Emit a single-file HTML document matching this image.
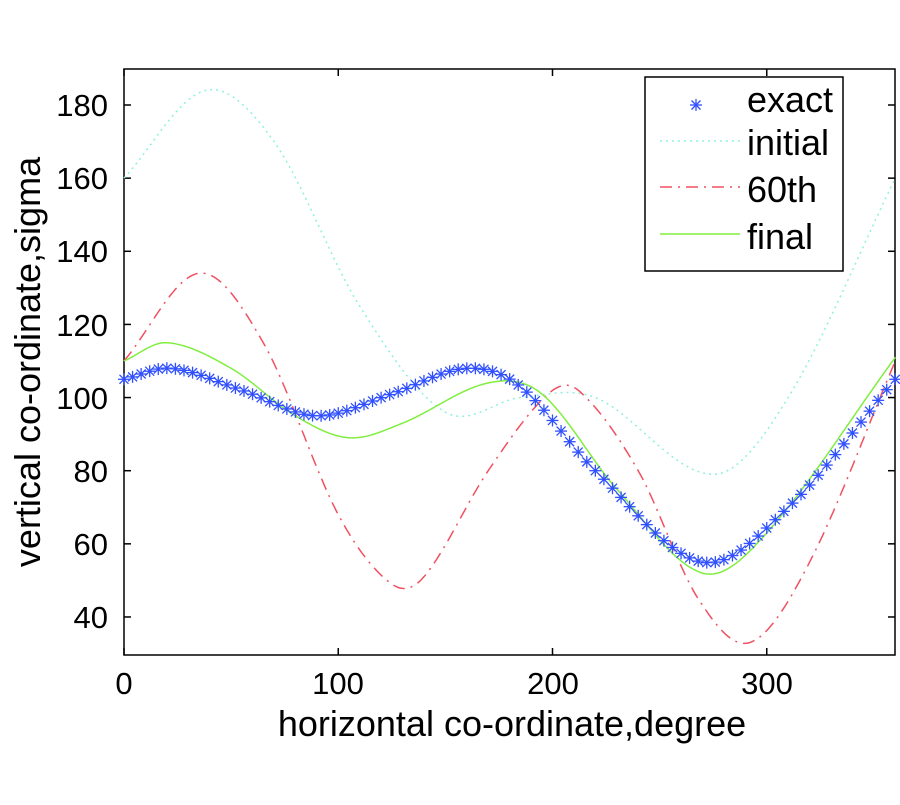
<!DOCTYPE html>
<html><head><style>
body{margin:0;background:#fff;}
svg text{font-family:"Liberation Sans",sans-serif;fill:#000;}
</style></head><body>
<svg id="s" width="900" height="800" xmlns="http://www.w3.org/2000/svg">
<rect x="124" y="69" width="771" height="586" fill="none" stroke="#000" stroke-width="1.5"/>
<g font-size="31" text-anchor="end">
<text x="108" y="116">180</text><text x="108" y="189">160</text><text x="108" y="262">140</text>
<text x="108" y="336">120</text><text x="108" y="409">100</text><text x="108" y="482">80</text>
<text x="108" y="555">60</text><text x="108" y="628">40</text>
</g>
<g font-size="31" text-anchor="middle">
<text x="124" y="694">0</text><text x="338" y="694">100</text><text x="553" y="694">200</text><text x="767" y="694">300</text>
</g>
<text x="512" y="736" font-size="36" text-anchor="middle">horizontal co-ordinate,degree</text>
<text transform="translate(40,362) rotate(-90)" font-size="36" text-anchor="middle">vertical co-ordinate,sigma</text>
<g id="ticks" stroke="#000" stroke-width="1.5"></g>
<g id="curves"></g>
<rect x="645" y="77" width="198" height="194" fill="#fff" stroke="#000" stroke-width="1.5"/>
<g font-size="36">
<text x="747" y="112">exact</text><text x="747" y="155">initial</text>
<text x="747" y="202">60th</text><text x="747" y="249">final</text>
</g>
<g id="leg"></g>
<line x1="660" y1="141" x2="740" y2="141" stroke="#8ff0e0" stroke-width="1.5" stroke-dasharray="2,4"/>
<line x1="660" y1="187" x2="740" y2="187" stroke="#f05060" stroke-width="1.5" stroke-dasharray="12,6,2,6"/>
<line x1="660" y1="234" x2="740" y2="234" stroke="#80ee40" stroke-width="1.5"/>
</svg>
<script>
var ns="http://www.w3.org/2000/svg";
function X(v){return 124+v*2.1425;}
function Y(v){return 105+(180-v)*3.657;}
function el(t,a,p){var e=document.createElementNS(ns,t);for(var k in a)e.setAttribute(k,a[k]);p.appendChild(e);return e;}
var tk=document.getElementById('ticks');
[180,160,140,120,100,80,60,40].forEach(function(v){el('line',{x1:124,x2:131,y1:Y(v),y2:Y(v)},tk);el('line',{x1:888,x2:895,y1:Y(v),y2:Y(v)},tk);});
[0,100,200,300].forEach(function(v){el('line',{x1:X(v),x2:X(v),y1:655,y2:648},tk);el('line',{x1:X(v),x2:X(v),y1:69,y2:76},tk);});
function interp(p,x){for(var i=0;i<p.length-1;i++){if(x<=p[i+1][0]){var p0=p[Math.max(i-1,0)],p1=p[i],p2=p[i+1],p3=p[Math.min(i+2,p.length-1)];var t=(x-p1[0])/(p2[0]-p1[0]);
var m1=(p2[1]-p0[1])/(p2[0]-p0[0])*(p2[0]-p1[0]),m2=(p3[1]-p1[1])/(p3[0]-p1[0])*(p2[0]-p1[0]);
var t2=t*t,t3=t2*t;return (2*t3-3*t2+1)*p1[1]+(t3-2*t2+t)*m1+(-2*t3+3*t2)*p2[1]+(t3-t2)*m2;}}return p[p.length-1][1];}
function path(p){var d='';for(var x=0;x<=360;x+=1){d+=(x?'L':'M')+X(x).toFixed(1)+','+Y(interp(p,x)).toFixed(1);}return d;}
var cv=document.getElementById('curves');
var ini=[[0,160],[38,184],[70,170],[110,125],[150,96],[185,100],[220,100],[275,79],[310,100],[360,160]];
var sx=[[0,110],[35,134],[65,115],[100,68],[125,49],[140,51],[170,80],[198,101],[212,102],[240,80],[268,45],[292,33],[320,55],[360,110]];
var fin=[[0,110],[20,115],[50,108],[80,95],[105,89],[130,93],[170,104],[195,101],[230,75],[270,52],[300,63],[360,111]];
var ex=[[0,105],[22,108],[55,102],[90,95],[125,101],[160,108],[185,103],[220,80],[270,55],[310,70],[360,105]];
el('path',{d:path(ini),fill:'none',stroke:'#8ff0e0','stroke-width':1.5,'stroke-dasharray':'2,4'},cv);
el('path',{d:path(sx),fill:'none',stroke:'#f05060','stroke-width':1.5,'stroke-dasharray':'12,6,2,6'},cv);
el('path',{d:path(fin),fill:'none',stroke:'#80ee40','stroke-width':1.5},cv);
function star(cx,cy,p){var r=6;
el('line',{x1:cx-r,x2:cx+r,y1:cy,y2:cy,stroke:'#3050ff','stroke-width':1.3},p);
el('line',{x1:cx,x2:cx,y1:cy-r,y2:cy+r,stroke:'#3050ff','stroke-width':1.3},p);
el('line',{x1:cx-4.5,x2:cx+4.5,y1:cy-4.5,y2:cy+4.5,stroke:'#3050ff','stroke-width':1.3},p);
el('line',{x1:cx-4.5,x2:cx+4.5,y1:cy+4.5,y2:cy-4.5,stroke:'#3050ff','stroke-width':1.3},p);}
for(var x=0;x<=360;x+=4){star(X(x),Y(interp(ex,x)),cv);}
star(696,105,document.getElementById('leg'));
</script>
</body></html>
